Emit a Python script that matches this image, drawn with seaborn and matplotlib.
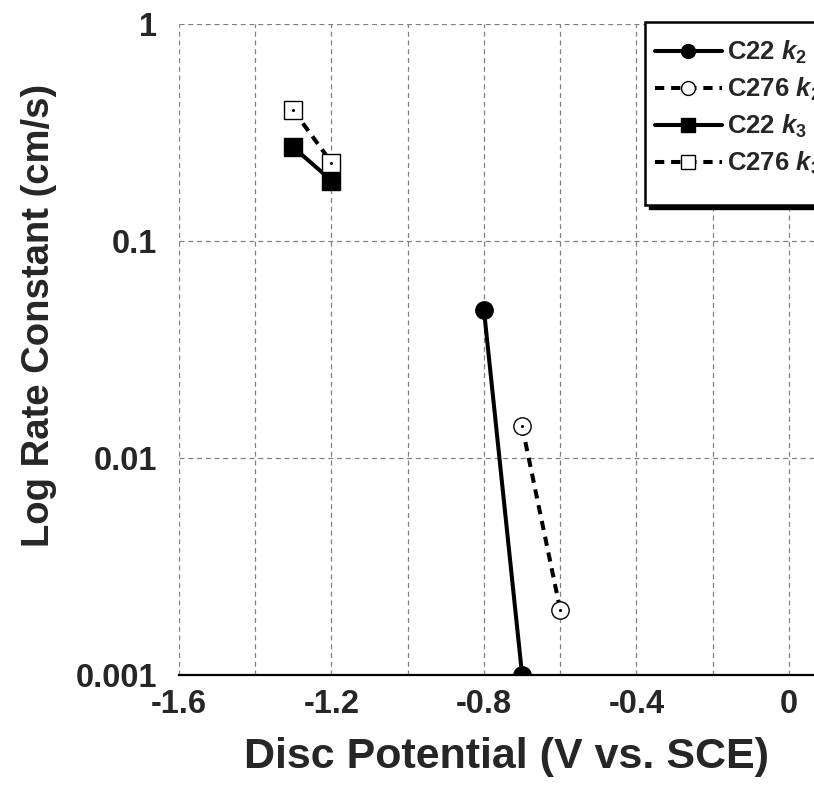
import numpy as np
import pandas as pd
import matplotlib
matplotlib.use("Agg")
import matplotlib.pyplot as plt
from matplotlib.patches import Rectangle
import seaborn as sns

# data
c22_k2_x = [-0.8, -0.7]
c22_k2_y = [0.048, 0.001]
c276_k2_x = [-0.7, -0.6]
c276_k2_y = [0.014, 0.002]
c22_k3_x = [-1.3, -1.2]
c22_k3_y = [0.27, 0.19]
c276_k3_x = [-1.3, -1.2]
c276_k3_y = [0.40, 0.23]

x_ticks = [-1.6, -1.2, -0.8, -0.4, 0.0]
x_ticklabels = ["-1.6", "-1.2", "-0.8", "-0.4", "0"]
y_ticks = [0.001, 0.01, 0.1, 1]
y_ticklabels = ["0.001", "0.01", "0.1", "1"]

sns.set_style("white")
plt.rcParams["font.family"] = ["Liberation Sans", "DejaVu Sans"]
plt.rcParams["font.weight"] = "bold"
plt.rcParams["mathtext.fontset"] = "custom"
plt.rcParams["mathtext.rm"] = "Liberation Sans:bold"
plt.rcParams["mathtext.it"] = "Liberation Sans:italic:bold"
plt.rcParams["mathtext.bf"] = "Liberation Sans:bold"

W, H = 814, 790
fig = plt.figure(figsize=(W / 100, H / 100), dpi=100)
ax = fig.add_axes([179 / W, 115 / H, 0.843, 651 / H])

dash = (0, (2.3, 1.7))
series = [
    (c22_k2_x, c22_k2_y, r"C22 $\mathit{k}_{\mathrm{2}}$", "o", "black", "-"),
    (c276_k2_x, c276_k2_y, r"C276 $\mathit{k}_{\mathrm{2}}$", "o", "white", dash),
    (c22_k3_x, c22_k3_y, r"C22 $\mathit{k}_{\mathrm{3}}$", "s", "black", "-"),
    (c276_k3_x, c276_k3_y, r"C276 $\mathit{k}_{\mathrm{3}}$", "s", "white", dash),
]
for xs, ys, lab, mk, fc, ls in series:
    df = pd.DataFrame({"x": xs, "y": ys})
    sns.lineplot(data=df, x="x", y="y", ax=ax, color="black", linewidth=2.9,
                 linestyle=ls, marker=mk, markersize=12.5, markerfacecolor=fc,
                 markeredgecolor="black", markeredgewidth=1.0, label=lab,
                 sort=False)
    if fc == "white":
        # tiny centre dot seen in the open markers
        ax.plot(xs, ys, linestyle="none", marker="o", markersize=1.2,
                color="black", zorder=5)

ax.set_yscale("log")
ax.set_xlim(-1.6, 0.2)
ax.set_ylim(0.001, 1)

ax.set_xticks(x_ticks)
ax.set_xticklabels(x_ticklabels)
ax.set_xticks(np.arange(-1.4, 0.2, 0.4), minor=True)
ax.set_yticks(y_ticks)
ax.set_yticklabels(y_ticklabels)
ax.yaxis.set_minor_locator(matplotlib.ticker.NullLocator())

ax.tick_params(axis="both", which="both", direction="in", length=10, width=1.5,
               color="black", labelsize=23.5)
ax.tick_params(axis="x", which="major", pad=10)
ax.tick_params(axis="y", which="major", pad=16)
for lab in ax.get_xticklabels() + ax.get_yticklabels():
    lab.set_fontweight("bold")

ax.grid(True, which="both", axis="x", color="#808080", linestyle=(0, (4, 3)), linewidth=0.9)
ax.grid(True, which="major", axis="y", color="#808080", linestyle=(0, (4, 3)), linewidth=0.9)
for side in ["left", "top", "right"]:
    ax.spines[side].set_visible(False)
ax.spines["bottom"].set_color("black")
ax.spines["bottom"].set_linewidth(1.6)

ax.set_xlabel("Disc Potential (V vs. SCE)", fontsize=31, fontweight="bold")
ax.set_ylabel("Log Rate Constant (cm/s)", fontsize=27.5, fontweight="bold")
ax.xaxis.set_label_coords(0.477, -0.095)
ax.yaxis.set_label_coords(-0.178, 0.553)

# legend box with a solid black drop shadow, drawn by hand
shadow = Rectangle(((645 + 4) / W, 1 - (205 + 4) / H), 0.3, 183 / H,
                   transform=fig.transFigure, facecolor="black", edgecolor="black",
                   zorder=3.8)
frame = Rectangle((645 / W, 1 - 205 / H), 0.3, 183 / H, transform=fig.transFigure,
                  facecolor="white", edgecolor="black", linewidth=1.8, zorder=3.9)
fig.add_artist(shadow)
fig.add_artist(frame)

handles, labels = ax.get_legend_handles_labels()
leg = fig.legend(handles, labels, loc="upper left", bbox_to_anchor=(655 / W, 1 - 39 / H),
                 fontsize=18.5, handlelength=2.6, handletextpad=0.22, labelspacing=0.38,
                 borderpad=0, borderaxespad=0, markerscale=0.8, frameon=False)
leg.set_zorder(5)
for t in leg.get_texts():
    t.set_fontweight("bold")

fig.savefig("out.png", dpi=100)
